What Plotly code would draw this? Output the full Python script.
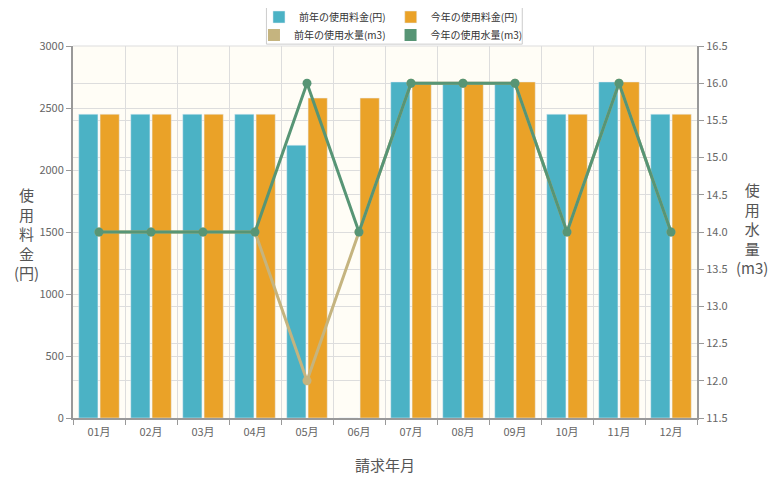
import plotly.graph_objects as go

# 請求年月ごとのデータ
months = ["01月", "02月", "03月", "04月", "05月", "06月",
          "07月", "08月", "09月", "10月", "11月", "12月"]
prev_fee = [2450, 2450, 2450, 2450, 2200, 0, 2710, 2710, 2710, 2450, 2710, 2450]
curr_fee = [2450, 2450, 2450, 2450, 2580, 2580, 2710, 2710, 2710, 2450, 2710, 2450]
prev_water = [14, 14, 14, 14, 12, 14, 16, 16, 16, 14, 16, 14]
curr_water = [14, 14, 14, 14, 16, 14, 16, 16, 16, 14, 16, 14]

# jqPlot風の配色
c_blue = "#4bb2c5"
c_orange = "#eaa228"
c_khaki = "#c5b47f"
c_green = "#579575"
font_jp = "Noto Sans CJK JP"

fig = go.Figure()

fig.add_trace(go.Bar(x=months, y=prev_fee, name="前年の使用料金(円)",
                     marker=dict(color=c_blue), legend="legend"))
fig.add_trace(go.Bar(x=months, y=curr_fee, name="今年の使用料金(円)",
                     marker=dict(color=c_orange), legend="legend"))

fig.add_trace(go.Scatter(x=months, y=prev_water, yaxis="y2", mode="lines+markers",
                         line=dict(color=c_khaki, width=3),
                         marker=dict(color=c_khaki, size=9), showlegend=False))
fig.add_trace(go.Scatter(x=months, y=curr_water, yaxis="y2", mode="lines+markers",
                         line=dict(color=c_green, width=3),
                         marker=dict(color=c_green, size=9), showlegend=False))

# legend swatches for the line series (square like the bars)
for name, col in [("前年の使用水量(m3)", c_khaki), ("今年の使用水量(m3)", c_green)]:
    fig.add_trace(go.Scatter(x=[None], y=[None], mode="markers", name=name,
                             marker=dict(color=col, symbol="square", size=12),
                             legend="legend2"))

legend_style = dict(orientation="h", xref="container", yref="container",
                    x=0.491, xanchor="center", yanchor="middle",
                    font=dict(size=10, color="#333"), bgcolor="rgba(0,0,0,0)",
                    itemwidth=30, tracegroupgap=0)

fig.update_layout(
    width=780, height=480,
    margin=dict(l=65, r=91, t=38, b=70, autoexpand=False),
    paper_bgcolor="white",
    plot_bgcolor="#fffdf6",
    font=dict(family=font_jp, size=11, color="#666"),
    barmode="group", bargap=0.18, bargroupgap=0.1,
    legend=dict(legend_style, y=1 - 9 / 480),
    legend2=dict(legend_style, y=1 - 27 / 480),
    xaxis=dict(type="category", range=[-0.5, 11.5], tickson="boundaries",
               ticks="outside", ticklen=5, tickcolor="#999", ticklabelstandoff=3,
               showgrid=True, gridcolor="#dddddd", automargin=False,
               showline=True, linecolor="#999", linewidth=2,
               title=dict(text="請求年月", font=dict(size=15, color="#555"), standoff=22)),
    yaxis=dict(range=[0, 3000], dtick=500, ticks="outside", ticklen=5, tickcolor="#999",
               showgrid=True, gridcolor="#dddddd", zeroline=False, automargin=False,
               showline=True, linecolor="#999", linewidth=2),
    yaxis2=dict(range=[11.5, 16.5], dtick=0.5, tickformat=".1f", overlaying="y",
                side="right", ticks="outside", ticklen=5, tickcolor="#999",
                showgrid=True, gridcolor="#dddddd", zeroline=False, automargin=False,
                showline=True, linecolor="#999", linewidth=2),
    annotations=[
        dict(text="使<br>用<br>料<br>金<br>(円)", xref="paper", yref="paper",
             x=-0.074, y=0.495, xanchor="center", showarrow=False,
             font=dict(size=15, color="#555")),
        dict(text="使<br>用<br>水<br>量<br>(m3)", xref="paper", yref="paper",
             x=1.088, y=0.51, xanchor="center", showarrow=False,
             font=dict(size=15, color="#555")),
    ],
    shapes=[
        dict(type="rect", xref="paper", yref="paper", x0=0.31, x1=0.72,
             y0=1.005, y1=1.11, line=dict(color="#cccccc", width=1)),
        dict(type="line", xref="paper", yref="paper", x0=0, x1=1, y0=1, y1=1,
             line=dict(color="#dddddd", width=1)),
    ],
)

fig.write_html("out.html")
